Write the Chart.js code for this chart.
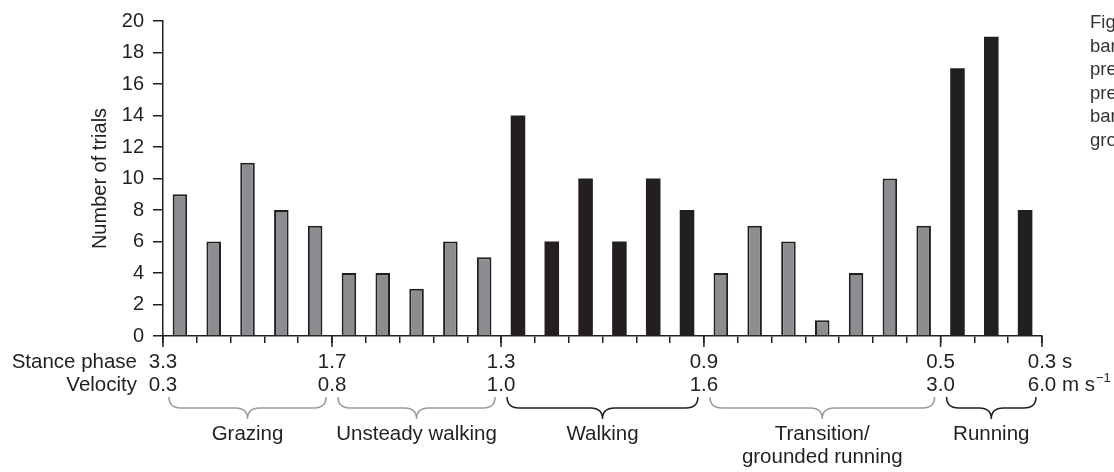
<!DOCTYPE html>
<html>
<head>
<meta charset="utf-8">
<script src="https://cdn.jsdelivr.net/npm/chart.js@4/dist/chart.umd.min.js"></script>
<style>
  html, body { margin: 0; padding: 0; background: #fff; }
  canvas { display: block; }
</style>
</head>
<body>
<canvas id="chart" width="1114" height="472"></canvas>
<script>
// Number of trials in each stance-phase bin, grouped by gait
const grazing = [9, 6, 11, 8, 7];
const unsteadyWalking = [4, 4, 3, 6, 5];
const walking = [14, 6, 10, 6, 10, 8];
const transition = [4, 7, 6, 1, 4, 10, 7];
const running = [17, 19, 8];

const gaitNames = ['Grazing', 'Unsteady walking', 'Walking', 'Transition/\ngrounded running', 'Running'];
const gaitSteady = [false, false, true, false, true];

// Axis values at the gait boundaries
const stancePhase = ['3.3', '1.7', '1.3', '0.9', '0.5', '0.3'];
const velocity = ['0.3', '0.8', '1.0', '1.6', '3.0', '6.0'];

// Caption lines running along the right margin
const captionLines = ['Fig', 'bar', 'pre', 'pre', 'bar', 'gro'];

const INK = '#231f20';
const GREY_BAR = '#8c8d91';
const GREY_LINE = '#9c9c9c';
const FONT = "'Liberation Sans', Arial, Helvetica, sans-serif";

const gaitGroups = [grazing, unsteadyWalking, walking, transition, running];
const counts = gaitGroups.flat();
const binLabels = counts.map((_, i) => String(i + 1));
const barFill = [], barBorder = [];
gaitGroups.forEach((g, gi) => g.forEach(() => {
  barFill.push(gaitSteady[gi] ? INK : GREY_BAR);
  barBorder.push(gaitSteady[gi] ? 0 : 2);
}));
// bin index where each gait group starts, plus the end
const bounds = [0];
gaitGroups.forEach(g => bounds.push(bounds[bounds.length - 1] + g.length));

function drawBrace(ctx, x1, x2, y0, h, r) {
  const xc = (x1 + x2) / 2;
  ctx.beginPath();
  ctx.moveTo(x1, y0);
  ctx.quadraticCurveTo(x1, y0 + h, x1 + r, y0 + h);
  ctx.lineTo(xc - r, y0 + h);
  ctx.quadraticCurveTo(xc, y0 + h, xc, y0 + 2 * h);
  ctx.quadraticCurveTo(xc, y0 + h, xc + r, y0 + h);
  ctx.lineTo(x2 - r, y0 + h);
  ctx.quadraticCurveTo(x2, y0 + h, x2, y0);
  ctx.stroke();
}

const gaitAxisPlugin = {
  id: 'gaitAxis',
  afterDraw(chart) {
    const ctx = chart.ctx;
    const x = chart.scales.x;
    const area = chart.chartArea;
    const edge = k => x.getPixelForValue(k - 0.5);
    ctx.save();

    // longer ticks at gait boundaries
    ctx.strokeStyle = INK;
    ctx.lineWidth = 1.5;
    bounds.forEach(k => {
      const px = edge(k);
      ctx.beginPath();
      ctx.moveTo(px, area.bottom);
      ctx.lineTo(px, area.bottom + 11);
      ctx.stroke();
    });

    // stance phase and velocity rows
    ctx.fillStyle = INK;
    ctx.font = `20.5px ${FONT}`;
    ctx.textBaseline = 'alphabetic';
    ctx.textAlign = 'right';
    ctx.fillText('Stance phase', edge(0) - 26, 368);
    ctx.fillText('Velocity', edge(0) - 26, 391);
    ctx.textAlign = 'center';
    bounds.forEach((k, i) => {
      ctx.fillText(stancePhase[i], edge(k), 368);
      ctx.fillText(velocity[i], edge(k), 391);
    });
    const last = edge(bounds[bounds.length - 1]);
    ctx.textAlign = 'left';
    const sx = last + ctx.measureText(stancePhase[stancePhase.length - 1]).width / 2;
    ctx.fillText(' s', sx, 368);
    const vx = last + ctx.measureText(velocity[velocity.length - 1]).width / 2;
    ctx.fillText(' m s', vx, 391);
    const supX = vx + ctx.measureText(' m s').width;
    ctx.font = `13px ${FONT}`;
    ctx.fillText('\u22121', supX + 1, 382);

    // braces and gait names
    ctx.lineWidth = 1.5;
    gaitNames.forEach((name, i) => {
      const x1 = edge(bounds[i]) + 6;
      const x2 = edge(bounds[i + 1]) - 6;
      ctx.strokeStyle = gaitSteady[i] ? INK : GREY_LINE;
      drawBrace(ctx, x1, x2, 397, 11, 12);
      ctx.fillStyle = INK;
      ctx.font = `20.5px ${FONT}`;
      ctx.textAlign = 'center';
      name.split('\n').forEach((line, j) => {
        ctx.fillText(line, (x1 + x2) / 2, 440 + j * 23);
      });
    });

    // caption in the right margin
    ctx.fillStyle = '#333333';
    ctx.font = `18.5px ${FONT}`;
    ctx.textAlign = 'left';
    captionLines.forEach((line, i) => ctx.fillText(line, 1090, 28 + i * 23.5));

    ctx.restore();
  }
};

new Chart(document.getElementById('chart'), {
  type: 'bar',
  data: {
    labels: binLabels,
    datasets: [{
      data: counts,
      backgroundColor: barFill,
      borderColor: INK,
      borderWidth: barBorder,
      borderSkipped: 'start',
      barPercentage: 0.43,
      categoryPercentage: 1
    }]
  },
  options: {
    responsive: false,
    devicePixelRatio: 1,
    animation: false,
    layout: { padding: { left: 88, top: 18, right: 72, bottom: 0 } },
    plugins: { legend: { display: false }, tooltip: { enabled: false } },
    scales: {
      x: {
        ticks: { display: false },
        grid: { drawOnChartArea: false, drawTicks: true, tickLength: 7, color: INK, lineWidth: 1.5 },
        border: { color: INK, width: 1.5 },
        afterFit(scale) { scale.height = 136; }
      },
      y: {
        min: 0,
        max: 20,
        ticks: { stepSize: 2, color: INK, font: { family: FONT, size: 20 }, padding: 9 },
        grid: { drawOnChartArea: false, drawTicks: true, tickLength: 10, color: INK, lineWidth: 1.5 },
        border: { color: INK, width: 1.5 },
        title: { display: true, text: 'Number of trials', color: INK, font: { family: FONT, size: 20 }, padding: 0 },
        afterFit(scale) { scale.width = 75; }
      }
    }
  },
  plugins: [gaitAxisPlugin]
});
</script>
</body>
</html>
